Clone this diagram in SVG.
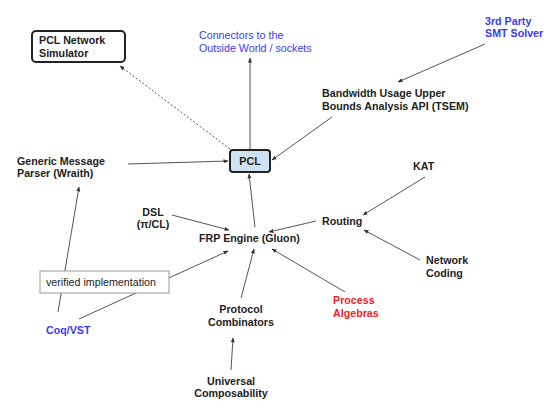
<svg xmlns="http://www.w3.org/2000/svg" width="545" height="409" viewBox="0 0 545 409">
<style>
text{font-family:"Liberation Sans",Arial,sans-serif;font-size:10.7px;fill:#222}
.b{font-weight:bold}
.blue{fill:#3a3af0}
.red{fill:#f01e1e}
.c{stroke:#555;stroke-width:1;fill:none}
.d{stroke-dasharray:2,2}
</style>
<defs>
<marker id="a" viewBox="0 0 10 10" refX="9" refY="5" markerWidth="5" markerHeight="5" orient="auto" markerUnits="userSpaceOnUse">
<path d="M0,1 L10,5 L0,9 Z" fill="#333"/>
</marker>
</defs>
<rect width="545" height="409" fill="#fff"/>
<g id="connectors">
<line class="c" x1="250" y1="149" x2="250" y2="58" marker-end="url(#a)"/>
<line class="c d" x1="230" y1="149" x2="120" y2="66" marker-end="url(#a)"/>
<line class="c" x1="128" y1="164" x2="228" y2="161" marker-end="url(#a)"/>
<line class="c" x1="485" y1="44" x2="398" y2="82" marker-end="url(#a)"/>
<line class="c" x1="332" y1="117" x2="272" y2="160" marker-end="url(#a)"/>
<line class="c" x1="425" y1="177" x2="363" y2="215" marker-end="url(#a)"/>
<line class="c" x1="316" y1="221" x2="269" y2="232" marker-end="url(#a)"/>
<line class="c" x1="420" y1="260" x2="364" y2="230" marker-end="url(#a)"/>
<line class="c" x1="345" y1="292" x2="272" y2="249" marker-end="url(#a)"/>
<line class="c" x1="255" y1="227" x2="249" y2="174" marker-end="url(#a)"/>
<line class="c" x1="172" y1="215" x2="229" y2="230" marker-end="url(#a)"/>
<line class="c" x1="79" y1="319" x2="228" y2="251" marker-end="url(#a)"/>
<line class="c" x1="58" y1="312" x2="79" y2="187" marker-end="url(#a)"/>
<line class="c" x1="241" y1="298" x2="254" y2="249" marker-end="url(#a)"/>
<line class="c" x1="231" y1="370" x2="233" y2="338" marker-end="url(#a)"/>
</g>
<g id="pcl">
<rect x="230" y="150" width="40" height="22" rx="3" fill="#cfe2f3" stroke="#222" stroke-width="2"/>
<text class="b" x="250" y="165" text-anchor="middle">PCL</text>
</g>
<g id="simulator">
<rect x="32" y="31" width="93" height="31" rx="4" fill="#fff" stroke="#222" stroke-width="2"/>
<text class="b" x="39" y="44">PCL Network</text>
<text class="b" x="39" y="57">Simulator</text>
</g>
<g id="connectors-outside">
<text class="blue" x="199" y="39">Connectors to the</text>
<text class="blue" x="199" y="52">Outside World / sockets</text>
</g>
<g id="smt">
<text class="b blue" x="485" y="25">3rd Party</text>
<text class="b blue" x="485" y="37">SMT Solver</text>
</g>
<g id="bandwidth">
<text class="b" x="322" y="97">Bandwidth Usage Upper</text>
<text class="b" x="322" y="110">Bounds Analysis API (TSEM)</text>
</g>
<g id="wraith">
<text class="b" x="17" y="165">Generic Message</text>
<text class="b" x="17" y="177">Parser (Wraith)</text>
</g>
<g id="kat">
<text class="b" x="413" y="170">KAT</text>
</g>
<g id="routing">
<text class="b" x="322" y="225">Routing</text>
</g>
<g id="network-coding">
<text class="b" x="426" y="264">Network</text>
<text class="b" x="426" y="277">Coding</text>
</g>
<g id="dsl">
<text class="b" x="153" y="216" text-anchor="middle">DSL</text>
<text class="b" x="153" y="228" text-anchor="middle">(π/CL)</text>
</g>
<g id="frp">
<text class="b" x="199" y="242">FRP Engine (Gluon)</text>
</g>
<g id="process-algebras">
<text class="b red" x="333" y="304">Process</text>
<text class="b red" x="333" y="317">Algebras</text>
</g>
<g id="verified">
<rect x="40" y="271" width="129" height="22" fill="#fff" stroke="#999" stroke-width="1"/>
<text x="46" y="286">verified implementation</text>
</g>
<g id="coq">
<text class="b blue" x="46" y="334">Coq/VST</text>
</g>
<g id="protocol">
<text class="b" x="241" y="313" text-anchor="middle">Protocol</text>
<text class="b" x="241" y="326" text-anchor="middle">Combinators</text>
</g>
<g id="uc">
<text class="b" x="231" y="385" text-anchor="middle">Universal</text>
<text class="b" x="231" y="397" text-anchor="middle">Composability</text>
</g>
</svg>
